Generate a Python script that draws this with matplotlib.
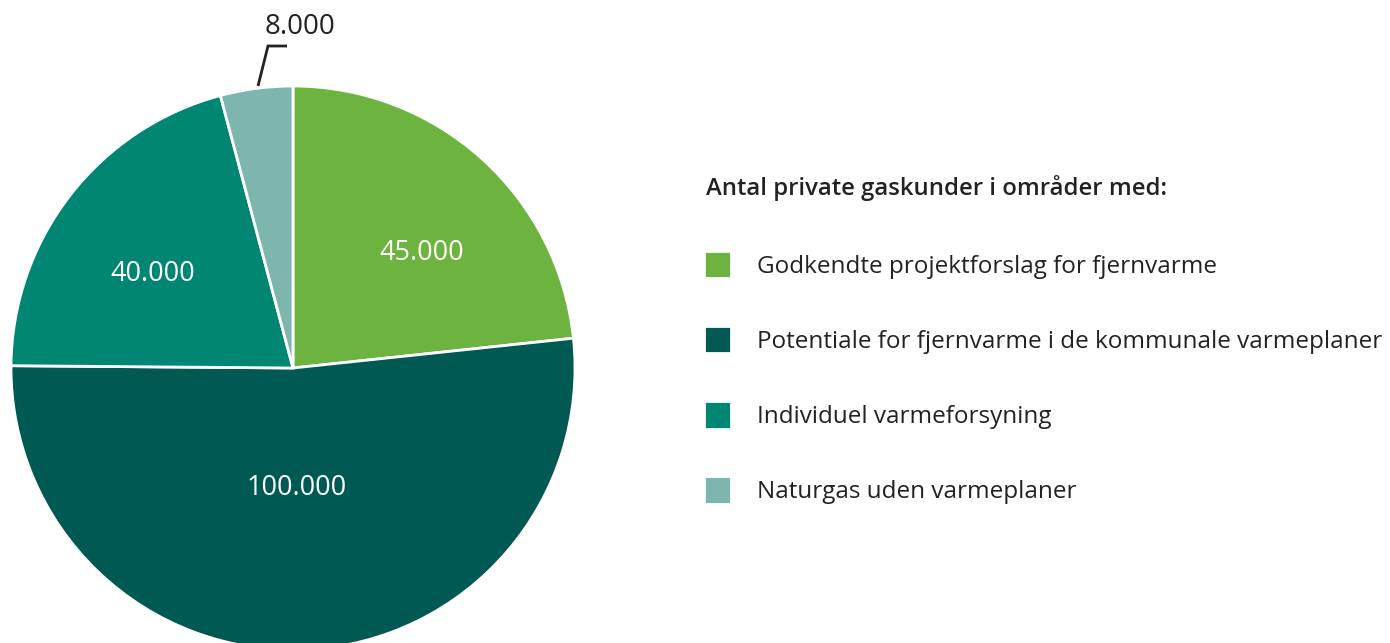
import matplotlib.pyplot as plt

categories = [
    "Godkendte projektforslag for fjernvarme",
    "Potentiale for fjernvarme i de kommunale varmeplaner",
    "Individuel varmeforsyning",
    "Naturgas uden varmeplaner",
]
values = [45000, 100000, 40000, 8000]
value_labels = ["45.000", "100.000", "40.000", "8.000"]
colors = ["#6db33f", "#005953", "#008673", "#7db6ae"]
legend_title = "Antal private gaskunder i områder med:"

plt.rcParams['font.family'] = ['Open Sans', 'DejaVu Sans']

W, H = 1390, 643
fig = plt.figure(figsize=(W / 100, H / 100), dpi=100)
ax = fig.add_axes([0, 0, 1, 1])

# pie centre / radius in pixel coordinates (y up)
cx, cy, r = 293, H - 368, 282

wedges, _ = ax.pie(values, colors=colors, startangle=90, counterclock=False,
                   center=(cx, cy), radius=r, frame=True,
                   wedgeprops=dict(edgecolor='white', linewidth=2))
ax.set_xlim(0, W)
ax.set_ylim(0, H)
ax.set_aspect('equal')
ax.axis('off')

# labels inside wedges
inside_pos = [(422, 253), (297, 488), (153, 274)]
for (x, y), lab in zip(inside_pos, value_labels[:3]):
    ax.text(x, H - y, lab, color='white', fontsize=19.5, ha='center', va='center')

# small slice label with leader line
ax.plot([258, 268, 287], [H - 86, H - 46, H - 46], color='#222222', lw=2,
        solid_capstyle='butt', solid_joinstyle='miter')
ax.text(300, H - 27, value_labels[3], color='#222222', fontsize=20,
        ha='center', va='center')

# legend
ax.text(706, H - 188, legend_title, fontsize=17.2, fontweight='semibold',
        color='#222222', ha='left', va='center')
leg = ax.legend(wedges, categories, loc='upper left',
                bbox_to_anchor=(704 / W, 1 - 251 / H), frameon=False,
                fontsize=17.5, handlelength=1.1, handleheight=1.35,
                handletextpad=1.1, labelspacing=1.95, borderaxespad=0,
                borderpad=0)
for t in leg.get_texts():
    t.set_color('#222222')

fig.savefig('out.png', dpi=100)
